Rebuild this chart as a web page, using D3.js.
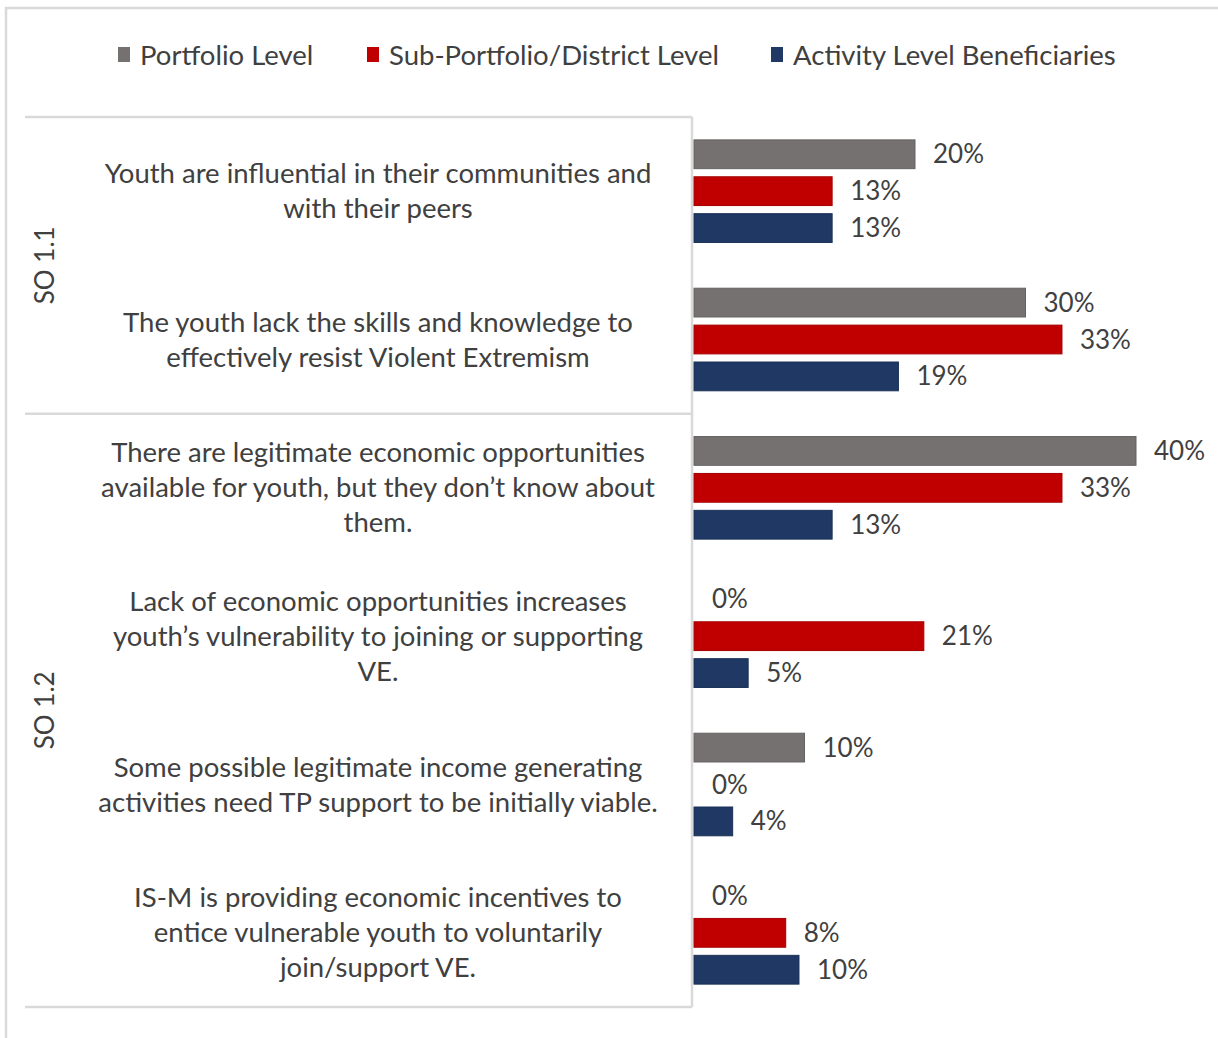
<!DOCTYPE html>
<html>
<head>
<meta charset="utf-8">
<script src="https://cdn.jsdelivr.net/npm/d3@7"></script>
<style>
  body { margin: 0; background: #fff; }
  text { font-family: Lato, "Open Sans", sans-serif; fill: #404040; }
</style>
</head>
<body>
<div id="viz"></div>
<script>

const categories = ["Q1", "Q2", "Q3", "Q4", "Q5", "Q6"]
const categoryLines = [
  ["Youth are influential in their communities and", "with their peers"],
  ["The youth lack the skills and knowledge to", "effectively resist Violent Extremism"],
  ["There are legitimate economic opportunities", "available for youth, but they don\u2019t know about", "them."],
  ["Lack of economic opportunities increases", "youth\u2019s vulnerability to joining or supporting", "VE."],
  ["Some possible legitimate income generating", "activities need TP support to be initially viable."],
  ["IS-M is providing economic incentives to", "entice vulnerable youth to voluntarily", "join/support VE."]
]
const groupNames = ["SO 1.1", "SO 1.2"]
const groupSizes = [2, 4]

const seriesNames = ["Portfolio Level", "Sub-Portfolio/District Level", "Activity Level Beneficiaries"]
const portfolio = [20, 30, 40, 0, 10, 0]
const subPortfolio = [12.5, 33.3, 33.3, 20.8, 0, 8.3]
const activity = [12.5, 18.5, 12.5, 4.9, 3.5, 9.5]
const colors = ["#767171", "#c00000", "#1f3864"]

const width = 1218
const height = 1038

const svg = d3.select("#viz").append("svg")
  .attr("width", width)
  .attr("height", height)

// outer frame
svg.append("path")
  .attr("d", `M6,${height} V8 H${width}`)
  .attr("fill", "none")
  .attr("stroke", "#d9d9d9")
  .attr("stroke-width", 2.5)

const seriesValues = [portfolio, subPortfolio, activity]
const rows = categories.map((c, i) => ({
  cat: c,
  lines: categoryLines[i],
  values: seriesNames.map((s, j) => ({ series: s, value: seriesValues[j][i], color: colors[j] }))
}))

const x = d3.scaleLinear().domain([0, 40]).range([694, 1136])
const y = d3.scaleBand().domain(categories).range([117, 1007])
const yInner = d3.scaleBand().domain(seriesNames).range([0, y.bandwidth()])
  .paddingInner(0.22).paddingOuter(0.62)

// legend
const legendX = [118, 367, 771]
const legend = svg.append("g")
seriesNames.forEach((s, i) => {
  legend.append("rect")
    .attr("x", legendX[i]).attr("y", 47)
    .attr("width", 12).attr("height", 15)
    .attr("fill", colors[i])
  legend.append("text")
    .attr("x", legendX[i] + 22).attr("y", 55)
    .attr("dy", "0.35em")
    .style("font-size", "27.5px")
    .text(s)
})

// category box lines
const boxColor = "#d9d9d9"
const left = 25
const right = 692
let acc = 0
const groupEdges = [0].concat(groupSizes.map(n => (acc += n)))
groupEdges.forEach(k => {
  const yy = k < categories.length ? y(categories[k]) : y.range()[1]
  svg.append("line")
    .attr("x1", left).attr("x2", right)
    .attr("y1", yy).attr("y2", yy)
    .attr("stroke", boxColor).attr("stroke-width", 2.5)
})
svg.append("line")
  .attr("x1", right).attr("x2", right)
  .attr("y1", y.range()[0]).attr("y2", y.range()[1])
  .attr("stroke", boxColor).attr("stroke-width", 2.5)

// group labels
groupNames.forEach((g, i) => {
  const y0 = y(categories[groupEdges[i]])
  const lastIdx = groupEdges[i + 1] - 1
  const y1 = y(categories[lastIdx]) + y.bandwidth()
  svg.append("text")
    .attr("transform", `translate(45,${(y0 + y1) / 2}) rotate(-90)`)
    .attr("text-anchor", "middle")
    .attr("dy", "0.35em")
    .style("font-size", "26px")
    .text(g)
})

// category labels
const lineH = 35
svg.selectAll(".catlabel")
  .data(rows)
  .enter()
  .append("text")
  .attr("class", "catlabel")
  .attr("text-anchor", "middle")
  .style("font-size", "27.5px")
  .each(function(d) {
    const cy = y(d.cat) + y.bandwidth() / 2
    const n = d.lines.length
    d3.select(this).selectAll("tspan")
      .data(d.lines)
      .enter()
      .append("tspan")
      .attr("x", 378)
      .attr("y", (l, i) => cy + (i - (n - 1) / 2) * lineH)
      .attr("dy", "0.35em")
      .text(l => l)
  })

// bars
const groupsG = svg.selectAll(".row")
  .data(rows)
  .enter()
  .append("g")
  .attr("class", "row")
  .attr("transform", d => `translate(0,${y(d.cat)})`)

groupsG.selectAll("rect")
  .data(d => d.values.filter(v => v.value > 0))
  .enter()
  .append("rect")
  .attr("x", x(0))
  .attr("y", d => yInner(d.series))
  .attr("width", d => x(d.value) - x(0))
  .attr("height", yInner.bandwidth())
  .attr("fill", d => d.color)
  .attr("stroke", d => d3.color(d.color).darker(0.4))
  .attr("stroke-width", 1)

groupsG.selectAll(".val")
  .data(d => d.values)
  .enter()
  .append("text")
  .attr("class", "val")
  .attr("x", d => x(d.value) + 18)
  .attr("y", d => yInner(d.series) + yInner.bandwidth() / 2)
  .attr("dy", "0.35em")
  .style("font-size", "26px")
  .text(d => Math.round(d.value) + "%")

</script>
</body>
</html>
